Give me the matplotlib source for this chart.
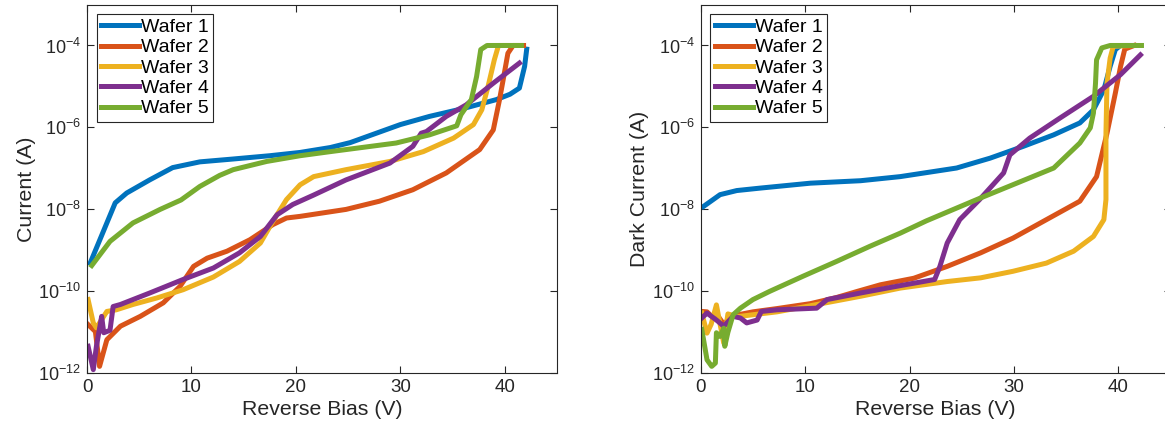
import numpy as np
import matplotlib
matplotlib.use("Agg")
import matplotlib.pyplot as plt
from matplotlib.ticker import NullLocator

# colours used by the five wafers (MATLAB default order)
COLORS = ['#0072BD', '#D95319', '#EDB120', '#7E2F8E', '#77AC30']
LABELS = ['Wafer 1', 'Wafer 2', 'Wafer 3', 'Wafer 4', 'Wafer 5']

# ---- left panel: current, values are log10(I / A) ----
w1_v = [0.3, 2.7, 3.8, 6.0, 8.2, 10.8, 14.0, 17.5, 20.4, 23.3, 25.2, 30.0,
        32.8, 36.0, 39.2, 40.5, 41.4, 41.9, 42.1]
w1_log = [-9.31, -7.84, -7.6, -7.28, -6.98, -6.84, -6.77, -6.69, -6.61, -6.49,
          -6.37, -5.93, -5.73, -5.54, -5.32, -5.19, -5.04, -4.51, -4.09]

w2_v = [0.1, 0.8, 1.2, 1.9, 3.2, 5.1, 7.3, 8.9, 10.2, 11.5, 13.4, 15.6, 17.8,
        19.1, 20.4, 24.8, 28.0, 31.2, 34.4, 37.6, 38.9, 39.5, 39.9, 40.3, 40.8,
        41.8]
w2_log = [-10.81, -10.98, -11.83, -11.18, -10.85, -10.61, -10.28, -9.88, -9.39,
          -9.19, -9.02, -8.74, -8.37, -8.21, -8.17, -8.0, -7.8, -7.52, -7.11,
          -6.54, -6.06, -5.32, -4.76, -4.19, -4.0, -4.0]

w3_v = [0.1, 0.6, 0.9, 1.9, 2.8, 4.4, 6.7, 9.2, 12.1, 14.6, 16.6, 17.8, 19.1,
        20.4, 21.7, 24.8, 29.0, 32.2, 35.1, 37.0, 37.8, 38.4, 39.0, 39.4, 41.5]
w3_log = [-10.2, -10.77, -10.89, -10.49, -10.45, -10.32, -10.16, -9.96, -9.65,
          -9.27, -8.82, -8.29, -7.76, -7.4, -7.2, -7.03, -6.83, -6.59, -6.26,
          -5.93, -5.57, -5.0, -4.35, -4.0, -4.0]

w4_v = [0.1, 0.6, 0.9, 1.4, 1.6, 2.2, 2.5, 3.2, 6.0, 9.2, 12.1, 14.6, 16.6,
        18.2, 19.7, 21.7, 24.8, 29.0, 31.2, 32.0, 32.5, 34.4, 36.3, 38.9, 41.4]
w4_log = [-11.34, -11.91, -11.34, -10.61, -11.01, -10.95, -10.37, -10.32,
          -10.04, -9.71, -9.43, -9.06, -8.66, -8.13, -7.88, -7.65, -7.28, -6.87,
          -6.46, -6.14, -6.10, -5.73, -5.45, -4.92, -4.43]

w5_v = [0.45, 2.2, 4.4, 7.0, 9.0, 10.8, 12.7, 14.0, 17.2, 20.4, 23.3, 29.6,
        32.8, 35.4, 35.8, 36.8, 37.3, 37.7, 38.3, 41.6]
w5_log = [-9.37, -8.78, -8.33, -8.0, -7.77, -7.44, -7.17, -7.03, -6.83, -6.69,
          -6.59, -6.38, -6.18, -5.96, -5.69, -5.32, -4.76, -4.1, -4.0, -4.0]

# ---- right panel: dark current, values are log10(I / A) ----
d1_v = [0.25, 1.85, 3.45, 5.7, 10.5, 15.3, 19.1, 24.5, 27.7, 30.9, 33.8, 36.3,
        37.6, 38.6, 39.2, 39.7, 40.2, 41.5]
d1_log = [-7.93, -7.64, -7.54, -7.48, -7.36, -7.30, -7.2, -6.99, -6.75, -6.46,
          -6.18, -5.89, -5.57, -5.08, -4.51, -4.1, -4.0, -4.0]

d2_v = [0.1, 0.6, 1.0, 1.5, 2.2, 3.0, 5.0, 7.3, 10.5, 13.0, 15.0, 17.2, 20.4,
        23.6, 26.8, 29.9, 33.1, 36.3, 37.9, 38.9, 39.7, 40.2, 40.6, 41.5]
d2_log = [-10.49, -10.5, -10.6, -10.55, -10.8, -10.6, -10.5, -10.42, -10.3,
          -10.15, -10.0, -9.84, -9.68, -9.39, -9.06, -8.7, -8.25, -7.8, -7.2,
          -6.14, -5.16, -4.51, -4.09, -4.0]

d3_v = [0.1, 0.6, 1.0, 1.5, 1.85, 2.2, 2.6, 3.45, 5.0, 7.3, 10.5, 15.3, 19.1,
        23.6, 26.8, 29.9, 33.1, 35.7, 37.6, 38.6, 38.8, 38.8, 38.9, 39.2, 39.5,
        41.5]
d3_log = [-10.53, -11.02, -10.8, -10.33, -10.8, -11.26, -10.55, -10.62, -10.57,
          -10.5, -10.35, -10.12, -9.92, -9.76, -9.67, -9.51, -9.31, -9.02,
          -8.66, -8.25, -7.76, -6.14, -4.92, -4.31, -4.02, -4.0]

d4_v = [0.1, 0.6, 1.5, 2.2, 3.1, 3.8, 4.4, 5.4, 5.8, 7.3, 11.1, 12.1, 15.3,
        19.1, 22.4, 22.9, 23.6, 24.8, 26.7, 29.0, 29.6, 31.5, 34.4, 37.6, 40.2,
        42.1]
d4_log = [-10.65, -10.53, -10.7, -10.85, -10.61, -10.65, -10.77, -10.7, -10.49,
          -10.45, -10.41, -10.2, -10.04, -9.86, -9.71, -9.39, -8.82, -8.25,
          -7.76, -7.11, -6.67, -6.26, -5.77, -5.24, -4.71, -4.23]

d5_v = [0.1, 0.6, 1.05, 1.4, 1.5, 1.85, 2.2, 2.3, 2.6, 3.1, 3.8, 5.0, 6.6, 9.8,
        13.0, 16.2, 19.1, 21.6, 26.8, 33.8, 36.3, 37.3, 37.6, 37.8, 37.9, 38.4,
        39.2, 42.2]
d5_log = [-10.93, -11.67, -11.83, -11.75, -11.01, -11.1, -10.9, -11.34, -11.0,
          -10.57, -10.41, -10.2, -10.0, -9.63, -9.27, -8.9, -8.58, -8.28, -7.72,
          -6.99, -6.38, -6.01, -5.65, -4.92, -4.35, -4.06, -4.0, -4.0]

left_series = [(w1_v, w1_log), (w2_v, w2_log), (w3_v, w3_log),
               (w4_v, w4_log), (w5_v, w5_log)]
right_series = [(d1_v, d1_log), (d2_v, d2_log), (d3_v, d3_log),
                (d4_v, d4_log), (d5_v, d5_log)]

plt.rcParams['font.family'] = ['Liberation Sans', 'DejaVu Sans']
plt.rcParams['mathtext.fontset'] = 'custom'
plt.rcParams['mathtext.rm'] = 'Liberation Sans'
plt.rcParams['mathtext.it'] = 'Liberation Sans:italic'

DARK = '#262626'

fig = plt.figure(figsize=(11.65, 4.25), dpi=100)
ax1 = fig.add_axes([0.0747, 0.1216, 0.4034, 0.8678])
ax2 = fig.add_axes([0.6015, 0.1216, 0.4034, 0.8678])


def style_axes(ax, series, ylabel):
    for (v, lg), c, lab in zip(series, COLORS, LABELS):
        ax.semilogy(v, 10.0 ** np.array(lg), color=c, lw=3.6, label=lab)
    ax.set_xlim(0, 45)
    ax.set_ylim(1e-12, 1e-3)
    ax.set_xticks([0, 10, 20, 30, 40])
    ax.set_yticks([1e-12, 1e-10, 1e-8, 1e-6, 1e-4])
    ax.yaxis.set_minor_locator(NullLocator())
    ax.tick_params(direction='in', top=True, right=True, length=5,
                   width=0.8, color=DARK, labelcolor=DARK, pad=4)
    ax.tick_params(axis='x', labelsize=13.5)
    ax.tick_params(axis='y', labelsize=13)
    for sp in ax.spines.values():
        sp.set_color(DARK)
        sp.set_linewidth(0.8)
    ax.set_xlabel('Reverse Bias (V)', fontsize=15.3, color=DARK, labelpad=3)
    ax.set_ylabel(ylabel, fontsize=15.3, color=DARK, labelpad=2)
    leg = ax.legend(loc='upper left', fontsize=14, handlelength=1.95,
                    handletextpad=0.1, labelspacing=0.14, borderpad=0.22,
                    borderaxespad=0.5, fancybox=False, framealpha=1)
    leg.get_frame().set_edgecolor(DARK)
    leg.get_frame().set_linewidth(0.8)


style_axes(ax1, left_series, 'Current (A)')
style_axes(ax2, right_series, 'Dark Current (A)')

fig.savefig('out.png', dpi=100)
